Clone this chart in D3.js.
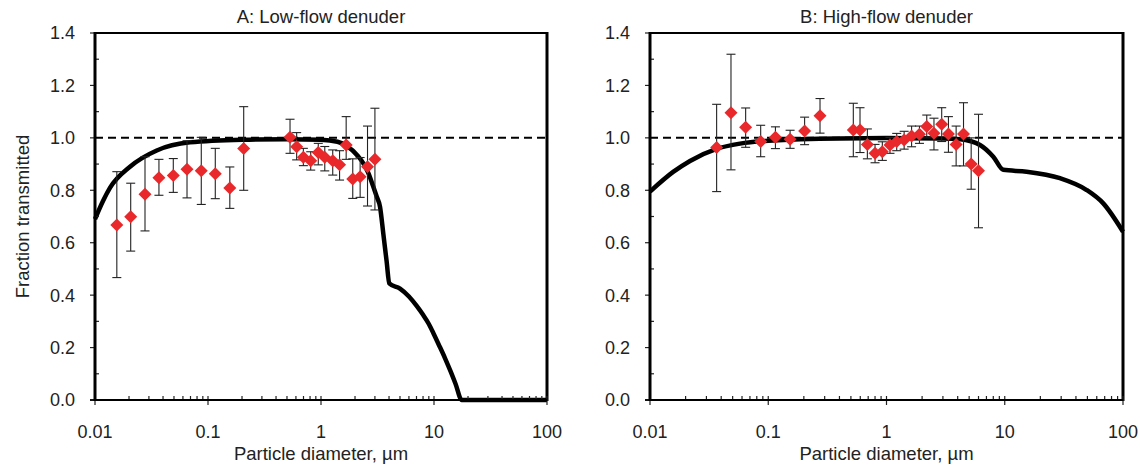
<!DOCTYPE html>
<html>
<head>
<meta charset="utf-8">
<script src="https://cdn.jsdelivr.net/npm/d3@7"></script>
<style>
  body { margin: 0; background: #fff; }
  svg text { font-family: "Liberation Sans", Arial, sans-serif; fill: #222; }
</style>
</head>
<body>
<div class="canvas"></div>
<script>
// ---- data ----
const panelTitles = ['A: Low-flow denuder', 'B: High-flow denuder'];
const xTicks = [0.01, 0.1, 1, 10, 100];
const xTickLabels = ['0.01', '0.1', '1', '10', '100'];
const yTicks = [0, 0.2, 0.4, 0.6, 0.8, 1.0, 1.2, 1.4];

// panel A measurements
const lowDiam = [0.0156, 0.0207, 0.0277, 0.0368, 0.0493, 0.0652, 0.0872, 0.116, 0.156, 0.207,
  0.532, 0.609, 0.698, 0.811, 0.946, 1.08, 1.27, 1.46, 1.67, 1.91, 2.22, 2.58, 3.0];
const lowFrac = [0.668, 0.699, 0.785, 0.848, 0.856, 0.880, 0.875, 0.863, 0.809, 0.959,
  1.002, 0.966, 0.926, 0.913, 0.944, 0.926, 0.913, 0.897, 0.973, 0.843, 0.852, 0.890, 0.918];
const lowHi = [0.871, 0.827, 0.928, 0.918, 0.921, 0.989, 1.002, 0.960, 0.889, 1.119,
  1.071, 1.020, 0.960, 0.947, 0.979, 0.967, 0.954, 0.951, 1.081, 0.920, 0.925, 1.045, 1.113];
const lowLo = [0.467, 0.568, 0.645, 0.781, 0.792, 0.771, 0.746, 0.768, 0.731, 0.800,
  0.941, 0.916, 0.894, 0.877, 0.897, 0.874, 0.858, 0.839, 0.918, 0.769, 0.773, 0.740, 0.725];

// panel A model curve
const lowCurveDiam = [0.01, 0.0118, 0.0136, 0.0204, 0.0352, 0.0693, 0.2, 0.5, 1.0, 1.4, 1.7, 2.13,
  2.37, 2.62, 2.9, 3.11, 3.33, 3.56, 3.81, 4.02, 5.0, 6.0, 7.0, 8.0, 9.0, 10, 11, 12.5, 14, 15.5, 17.6, 100];
const lowCurveFrac = [0.69, 0.76, 0.81, 0.89, 0.952, 0.983, 0.993, 0.995, 0.993, 0.985, 0.968, 0.93,
  0.903, 0.866, 0.814, 0.776, 0.737, 0.634, 0.528, 0.445, 0.425, 0.395, 0.36, 0.325, 0.29, 0.25, 0.212,
  0.16, 0.11, 0.062, 0, 0];

// panel B measurements
const highDiam = [0.0366, 0.0484, 0.0644, 0.0863, 0.115, 0.153, 0.203, 0.274,
  0.524, 0.597, 0.689, 0.800, 0.922, 1.07, 1.22, 1.41, 1.63, 1.90, 2.19, 2.52, 2.93, 3.34, 3.88, 4.48, 5.20, 6.0];
const highFrac = [0.963, 1.096, 1.040, 0.986, 1.002, 0.995, 1.026, 1.084,
  1.030, 1.030, 0.975, 0.941, 0.947, 0.973, 0.986, 0.992, 1.007, 1.014, 1.043, 1.018, 1.052, 1.015, 0.975, 1.015, 0.900, 0.875];
const highHi = [1.128, 1.319, 1.114, 1.048, 1.042, 1.029, 1.079, 1.150,
  1.132, 1.115, 1.034, 0.975, 0.985, 1.002, 1.017, 1.025, 1.045, 1.045, 1.087, 1.075, 1.115, 1.081, 1.045, 1.134, 1.000, 1.090];
const highLo = [0.795, 0.878, 0.964, 0.928, 0.959, 0.960, 0.974, 1.018,
  0.928, 0.944, 0.920, 0.905, 0.914, 0.941, 0.951, 0.957, 0.966, 0.979, 1.000, 0.954, 0.986, 0.945, 0.893, 0.893, 0.804, 0.657];

// panel B model curve
const highCurveDiam = [0.01, 0.0157, 0.0218, 0.0366, 0.0577, 0.1, 0.404, 1, 3, 4.19, 6.18, 8.0, 9.72,
  15.3, 29.3, 49.3, 68.1, 100];
const highCurveFrac = [0.795, 0.87, 0.912, 0.958, 0.978, 0.989, 0.998, 0.999, 0.998, 0.995, 0.973, 0.928, 0.878,
  0.871, 0.846, 0.801, 0.750, 0.642];

// ---- layout ----
const dims = { width: 1140, height: 468, top: 33, bottom: 400 };
const panels = [
  { left: 95, right: 547, title: panelTitles[0], diam: lowDiam, frac: lowFrac, hi: lowHi, lo: lowLo,
    cDiam: lowCurveDiam, cFrac: lowCurveFrac, showYLabel: true },
  { left: 650, right: 1123, title: panelTitles[1], diam: highDiam, frac: highFrac, hi: highHi, lo: highLo,
    cDiam: highCurveDiam, cFrac: highCurveFrac, showYLabel: false }
];

const svg = d3
  .select('.canvas')
  .append('svg')
  .attr('width', dims.width)
  .attr('height', dims.height);

const y = d3.scaleLinear().domain([0, 1.4]).range([dims.bottom, dims.top]);

const drawPanel = (p) => {
  const x = d3.scaleLog().domain([0.01, 100]).range([p.left, p.right]);
  const g = svg.append('g');

  // dashed reference at 1.0
  g.append('line')
    .attr('x1', p.left).attr('x2', p.right)
    .attr('y1', y(1)).attr('y2', y(1))
    .attr('stroke', '#000').attr('stroke-width', 2)
    .attr('stroke-dasharray', '8,5');

  // model curve
  const line = d3.line()
    .x((d, i) => x(p.cDiam[i]))
    .y((d) => y(d))
    .curve(d3.curveMonotoneX);
  g.append('path')
    .attr('d', line(p.cFrac))
    .attr('fill', 'none')
    .attr('stroke', '#000')
    .attr('stroke-width', 4.5)
    .attr('stroke-linejoin', 'round');

  // error bars
  const idx = d3.range(p.diam.length);
  const cap = 4.5;
  const eb = g.append('g').attr('stroke', '#222').attr('stroke-width', 1.1);
  idx.forEach((i) => {
    const cx = x(p.diam[i]);
    eb.append('line').attr('x1', cx).attr('x2', cx).attr('y1', y(p.hi[i])).attr('y2', y(p.lo[i]));
    eb.append('line').attr('x1', cx - cap).attr('x2', cx + cap).attr('y1', y(p.hi[i])).attr('y2', y(p.hi[i]));
    eb.append('line').attr('x1', cx - cap).attr('x2', cx + cap).attr('y1', y(p.lo[i])).attr('y2', y(p.lo[i]));
  });

  // diamond markers
  const h = 6.5;
  g.selectAll('path.pt')
    .data(idx)
    .enter()
    .append('path')
    .attr('class', 'pt')
    .attr('d', (i) => {
      const cx = x(p.diam[i]), cy = y(p.frac[i]);
      return `M${cx},${cy - h}L${cx + h},${cy}L${cx},${cy + h}L${cx - h},${cy}Z`;
    })
    .attr('fill', '#e8282a');

  // frame
  g.append('line').attr('x1', p.left).attr('x2', p.right).attr('y1', dims.top).attr('y2', dims.top)
    .attr('stroke', '#000').attr('stroke-width', 2);
  g.append('line').attr('x1', p.right).attr('x2', p.right).attr('y1', dims.top - 1).attr('y2', dims.bottom + 1)
    .attr('stroke', '#000').attr('stroke-width', 3);

  // x axis
  const xMinor = [];
  for (let e = -2; e < 2; e++) {
    for (let k = 2; k <= 9; k++) xMinor.push(k * Math.pow(10, e));
  }
  const xa = g.append('g').attr('stroke', '#222').attr('stroke-width', 1.2);
  xMinor.forEach((v) => {
    xa.append('line').attr('x1', x(v)).attr('x2', x(v)).attr('y1', dims.bottom).attr('y2', dims.bottom - 4);
  });
  xTicks.forEach((v) => {
    xa.append('line').attr('x1', x(v)).attr('x2', x(v)).attr('y1', dims.bottom - 4).attr('y2', dims.bottom + 5);
  });
  g.append('line').attr('x1', p.left - 5).attr('x2', p.right).attr('y1', dims.bottom).attr('y2', dims.bottom)
    .attr('stroke', '#000').attr('stroke-width', 2);
  g.selectAll('text.xt')
    .data(xTicks)
    .enter()
    .append('text')
    .attr('class', 'xt')
    .attr('x', (d) => x(d))
    .attr('y', 438)
    .attr('text-anchor', 'middle')
    .attr('font-size', 18)
    .text((d, i) => xTickLabels[i]);

  // y axis
  const ya = g.append('g').attr('stroke', '#222').attr('stroke-width', 1.2);
  d3.range(0.1, 1.4, 0.2).forEach((v) => {
    ya.append('line').attr('x1', p.left).attr('x2', p.left + 4).attr('y1', y(v)).attr('y2', y(v));
  });
  yTicks.forEach((v) => {
    ya.append('line').attr('x1', p.left - 5).attr('x2', p.left).attr('y1', y(v)).attr('y2', y(v));
  });
  g.append('line').attr('x1', p.left).attr('x2', p.left).attr('y1', dims.top - 1).attr('y2', dims.bottom + 1)
    .attr('stroke', '#000').attr('stroke-width', 3);
  g.selectAll('text.yt')
    .data(yTicks)
    .enter()
    .append('text')
    .attr('class', 'yt')
    .attr('x', p.left - 20)
    .attr('y', (d) => y(d))
    .attr('dy', '0.36em')
    .attr('text-anchor', 'end')
    .attr('font-size', 18)
    .text((d) => d3.format('.1f')(d));

  // titles
  g.append('text')
    .attr('x', (p.left + p.right) / 2)
    .attr('y', 23)
    .attr('text-anchor', 'middle')
    .attr('font-size', 18.5)
    .text(p.title);
  g.append('text')
    .attr('x', (p.left + p.right) / 2)
    .attr('y', 460)
    .attr('text-anchor', 'middle')
    .attr('font-size', 18.5)
    .text('Particle diameter, µm');

  if (p.showYLabel) {
    g.append('text')
      .attr('transform', `translate(29, ${(dims.top + dims.bottom) / 2}) rotate(-90)`)
      .attr('text-anchor', 'middle')
      .attr('font-size', 18.5)
      .text('Fraction transmitted');
  }
};

panels.forEach(drawPanel);
</script>
</body>
</html>
